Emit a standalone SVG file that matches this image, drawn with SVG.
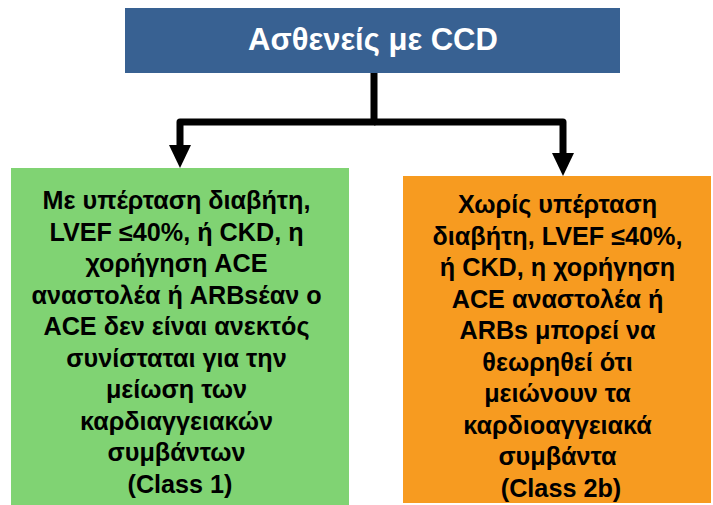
<svg xmlns="http://www.w3.org/2000/svg" width="713" height="505" viewBox="0 0 713 505">
<defs>
<style>
.t{font-family:"Liberation Sans",Arial,sans-serif;font-weight:bold;text-anchor:middle}
.b{font-size:25.2px;fill:#000}
.h{font-size:31px;fill:#fff}
.c{fill:none;stroke:#000;stroke-width:7;stroke-linejoin:round}
</style>
</defs>
<rect width="713" height="505" fill="#fff"/>
<g id="connectors">
<path class="c" d="M374,73 V122 H180 V146"/>
<path class="c" d="M374,122 H563 V154"/>
<path d="M169,145 L191,145 L180,168 Z" fill="#000"/>
<path d="M552,153 L574,153 L563,176 Z" fill="#000"/>
</g>
<g id="root">
<rect x="125" y="8" width="495" height="65" fill="#386192"/>
<text class="t h" x="373" y="50">Ασθενείς με CCD</text>
</g>
<g id="left">
<rect x="11" y="168" width="338" height="337" fill="#80D373"/>
<text class="t b" x="180">
<tspan x="180" y="209">Με υπέρταση διαβήτη,</tspan>
<tspan x="180" y="241">LVEF ≤40%, ή CKD, η</tspan>
<tspan x="180" y="272">χορήγηση ACE</tspan>
<tspan x="180" y="304">αναστολέα ή ARBsέαν ο</tspan>
<tspan x="180" y="335">ACE δεν είναι ανεκτός</tspan>
<tspan x="180" y="367">συνίσταται για την</tspan>
<tspan x="180" y="398">μείωση των</tspan>
<tspan x="180" y="430">καρδιαγγειακών</tspan>
<tspan x="180" y="461">συμβάντων</tspan>
<tspan x="180" y="493">(Class 1)</tspan>
</text>
</g>
<g id="right">
<rect x="403" y="176" width="308" height="327" fill="#F79B20"/>
<text class="t b" x="561">
<tspan x="561" y="213">Χωρίς υπέρταση</tspan>
<tspan x="561" y="245">διαβήτη, LVEF ≤40%,</tspan>
<tspan x="561" y="276">ή CKD, η χορήγηση</tspan>
<tspan x="561" y="308">ACE αναστολέα ή</tspan>
<tspan x="561" y="339">ARBs μπορεί να</tspan>
<tspan x="561" y="371">θεωρηθεί ότι</tspan>
<tspan x="561" y="402">μειώνουν τα</tspan>
<tspan x="561" y="434">καρδιοαγγειακά</tspan>
<tspan x="561" y="465">συμβάντα</tspan>
<tspan x="561" y="497">(Class 2b)</tspan>
</text>
</g>
</svg>
